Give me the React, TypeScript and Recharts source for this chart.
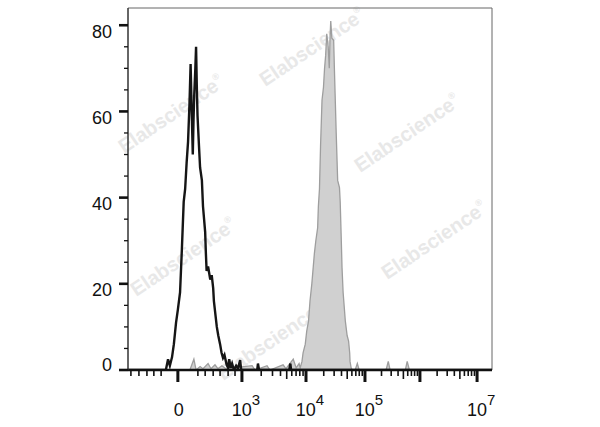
import { ComposedChart, Area, Line, XAxis, YAxis, ReferenceArea } from 'recharts'

// x values are display channels of the biexponential axis (0 = left edge, 1000 = right edge)
const BLACK_X = [
  0, 104, 110, 115, 121, 126, 132, 137, 143, 148, 153, 157, 161, 165, 169, 172, 175, 178, 180, 182,
  185, 187, 189, 191, 195, 198, 203, 206, 209, 212, 214, 216, 220, 226, 230, 234, 236, 239, 244, 248,
  253, 257, 261, 265, 271, 275, 278, 282, 286, 291, 297, 302, 308, 311, 355, 357, 360, 443, 446, 448,
  1000,
]
const BLACK_Y = [
  0, 0, 2.5, 1, 3, 6, 11, 14, 18, 28, 39, 42, 48, 53, 62, 71, 60, 50, 58, 64,
  70, 75, 66, 59, 52, 47, 44, 38, 35, 32, 27, 23, 24, 21, 22, 19, 16, 13.7, 10, 8,
  6, 4, 2.8, 3.5, 1.2, 0.5, 2.5, 0.5, 1.5, 0, 1, 0.3, 2.3, 0, 0, 1.5, 0, 0, 1.5, 0,
  0,
]

const GRAY_X = [
  0, 170, 181, 187, 198, 206, 220, 228, 239, 247, 258, 269, 341, 349, 382, 390, 426, 434, 454, 462,
  470, 473, 478, 481, 487, 491, 496, 500, 505, 509, 512, 516, 521, 523, 526, 529, 533, 537, 540, 543,
  546, 550, 553, 555, 557, 560, 565, 567, 569, 572, 576, 581, 583, 586, 588, 591, 597, 602, 606, 609,
  610, 613, 616, 624, 630, 635, 709, 715, 720, 762, 767, 773, 1000,
]
const GRAY_Y = [
  0, 0, 2.5, 0, 0.8, 0.3, 1.5, 0.3, 1.2, 0.3, 1, 0.3, 1, 0, 1, 0, 1.2, 0.3, 2.5, 0.5,
  1.5, 0.5, 2, 4, 6, 9, 11.4, 16, 20, 24, 27, 30, 33, 38, 42, 52, 62.6, 65.6, 70, 73,
  78, 75, 70, 77, 81, 77, 76.5, 70, 64, 55, 44, 42.3, 39, 30, 23.7, 18, 11.4, 8, 6.7, 4,
  2, 0.5, 0, 0, 1.5, 0, 0, 2, 0, 0, 2, 0, 0,
]

// major decades: 0, 10^3 ... 10^7
const X_MAJOR = [137, 313, 489, 651, 802, 959]
const X_LINEAR_MINOR = [8, 30, 52, 71, 91, 192, 212, 234, 253, 275, 294]
const X_LABELS = [
  { v: 137, base: '0', exp: '' },
  { v: 313, base: '10', exp: '3' },
  { v: 489, base: '10', exp: '4' },
  { v: 651, base: '10', exp: '5' },
  { v: 959, base: '10', exp: '7' },
]

const Y_MAJOR = [0, 20, 40, 60, 80]
const Y_MINOR = [5, 10, 15, 25, 30, 35, 45, 50, 55, 65, 70, 75]

const WATERMARKS = [
  { x: 312, y: 47 },
  { x: 171, y: 114 },
  { x: 407, y: 133 },
  { x: 183, y: 257 },
  { x: 434, y: 240 },
  { x: 270, y: 341 },
]

const blackData = BLACK_X.map((x, i) => ({ x, y: BLACK_Y[i] }))
const grayData = GRAY_X.map((x, i) => ({ x, y: GRAY_Y[i] }))

const k = (v: number) => v.toFixed(2)

const xKind = new Map<string, string>()
X_MAJOR.forEach((v) => xKind.set(k(v), 'major'))
X_LINEAR_MINOR.forEach((v) => xKind.set(k(v), 'minor'))
// log minor ticks inside each decade from 10^3 to 10^7
for (let d = 1; d < X_MAJOR.length - 1; d++) {
  const a = X_MAJOR[d]
  const b = X_MAJOR[d + 1]
  for (let m = 2; m <= 9; m++) {
    const v = a + (b - a) * Math.log10(m)
    xKind.set(k(v), m === 5 ? 'mid' : 'minor')
  }
}
const X_TICKS = Array.from(xKind.keys()).map(Number).sort((a, b) => a - b)
const xLabel = new Map(X_LABELS.map((l) => [k(l.v), l]))

const FONT = 'Arial, "Liberation Sans", Helvetica, sans-serif'

function XTick(props: any) {
  const { x, y, payload } = props
  const kind = xKind.get(k(payload.value)) ?? 'minor'
  const len = kind === 'major' ? 12 : kind === 'mid' ? 9 : 6
  const lab = xLabel.get(k(payload.value))
  return (
    <g>
      <line
        x1={x}
        x2={x}
        y1={y}
        y2={y + len}
        stroke="#111"
        strokeWidth={kind === 'major' ? 3 : 1.6}
      />
      {lab && (
        <text
          x={x + (lab.exp ? 4 : 1)}
          y={y + 46}
          textAnchor="middle"
          fontSize={18}
          fontFamily={FONT}
          fill="#111"
        >
          {lab.base}
          {lab.exp && (
            <tspan dy={-11} fontSize={15}>
              {lab.exp}
            </tspan>
          )}
        </text>
      )}
    </g>
  )
}

function YTick(props: any) {
  const { x, y, payload } = props
  const major = Y_MAJOR.includes(payload.value)
  return (
    <g>
      <line
        x1={x}
        x2={x - (major ? 9 : 4)}
        y1={y}
        y2={y}
        stroke="#111"
        strokeWidth={major ? 2.6 : 1.3}
      />
      {major && (
        <text
          x={x - 16}
          y={y + (payload.value === 0 ? 0.5 : 12.5)}
          textAnchor="end"
          fontSize={18}
          fontFamily={FONT}
          fill="#111"
        >
          {payload.value}
        </text>
      )}
    </g>
  )
}

export default function App() {
  return (
    <div style={{ position: 'absolute', left: 0, top: 0, width: 600, height: 427, background: '#fff' }}>
      <svg width={600} height={427} style={{ position: 'absolute', left: 0, top: 0 }}>
        {WATERMARKS.map((w, i) => (
          <text
            key={i}
            x={w.x}
            y={w.y + 7}
            textAnchor="middle"
            fontSize={20}
            fontWeight="bold"
            fontFamily={FONT}
            fill="#e8e8e8"
            transform={`rotate(-34 ${w.x} ${w.y})`}
          >
            Elabscience
            <tspan dy={-10} fontSize={9}>
              ®
            </tspan>
          </text>
        ))}
      </svg>
      <div style={{ position: 'absolute', left: 0, top: 0 }}>
        <ComposedChart width={600} height={427} margin={{ top: 8, right: 108, bottom: 0, left: 0 }}>
          <XAxis
            dataKey="x"
            type="number"
            domain={[0, 1000]}
            ticks={X_TICKS}
            interval={0}
            tick={<XTick />}
            tickLine={false}
            tickSize={0}
            tickMargin={0}
            height={57}
            axisLine={{ stroke: '#111', strokeWidth: 2.5 }}
            allowDataOverflow
          />
          <YAxis
            type="number"
            domain={[0, 84]}
            ticks={[...Y_MAJOR, ...Y_MINOR].sort((a, b) => a - b)}
            interval={0}
            tick={<YTick />}
            tickLine={false}
            tickSize={0}
            tickMargin={0}
            width={128}
            axisLine={{ stroke: '#333', strokeWidth: 1.2 }}
            allowDataOverflow
          />
          <ReferenceArea x1={0} x2={1000} y1={0} y2={84} fill="none" stroke="#666" strokeWidth={1} />
          <Area
            data={grayData}
            dataKey="y"
            type="linear"
            stroke="#9e9e9e"
            strokeWidth={1.3}
            fill="#d0d0d0"
            fillOpacity={1}
            isAnimationActive={false}
            dot={false}
            activeDot={false}
          />
          <Line
            data={blackData}
            dataKey="y"
            type="linear"
            stroke="#151515"
            strokeWidth={2.4}
            dot={false}
            activeDot={false}
            isAnimationActive={false}
          />
        </ComposedChart>
      </div>
    </div>
  )
}
